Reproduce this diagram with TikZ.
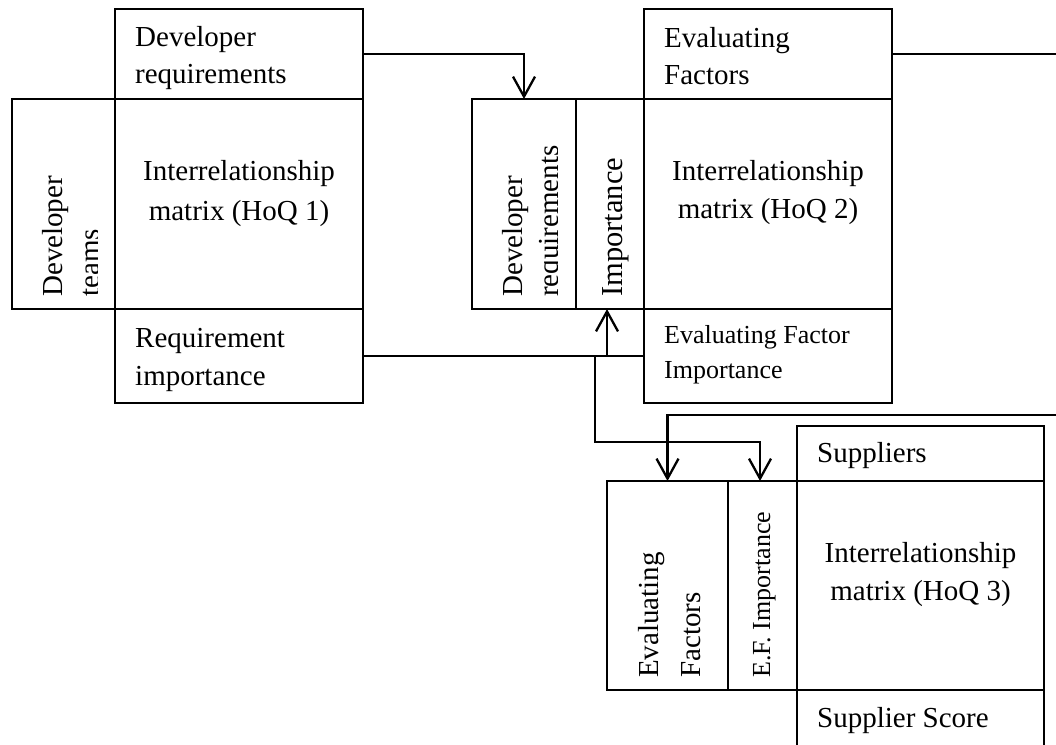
\documentclass[tikz,border=0pt]{standalone}
\usepackage{fontspec}
\setmainfont{Liberation Serif}
\usetikzlibrary{arrows.meta}
\begin{document}
\begin{tikzpicture}[x=1pt,y=-1pt,
  box/.style={draw, line width=1.3pt, inner sep=0pt, outer sep=0pt, minimum width=#1},
  conn/.style={line width=2.3pt},
  conna/.style={line width=2.3pt, -{Straight Barb[length=20pt,width=22pt]}},
  lbl/.style={font=\fontsize{29}{35}\selectfont, inner sep=0pt, anchor=base west},
  lblc/.style={font=\fontsize{29}{35}\selectfont, inner sep=0pt, anchor=base},
  lbls/.style={font=\fontsize{26}{31}\selectfont, inner sep=0pt, anchor=base west},
  vlbl/.style={font=\fontsize{29}{35}\selectfont, inner sep=0pt, anchor=base west, rotate=90},
  vlbls/.style={font=\fontsize{26}{31}\selectfont, inner sep=0pt, anchor=base west, rotate=90},
  vlblb/.style={font=\fontsize{30.5}{36}\selectfont, inner sep=0pt, anchor=base west, rotate=90}]
\useasboundingbox (0,0) rectangle (1056,744);
\clip (0,0) rectangle (1056,744);

% ---------- HoQ 1 ----------
\node[box=248pt, minimum height=90pt]  (h1top)  at (239,54) {};
\node[box=248pt, minimum height=210pt] (h1mat)  at (239,204) {};
\node[box=103pt, minimum height=210pt] (h1left) at (63.5,204) {};
\node[box=248pt, minimum height=94pt]  (h1bot)  at (239,356) {};

\node[lbl] (t1a) at (135,46) {Developer};
\node[lbl] (t1b) at (135,83) {requirements};
\node[lblc] (t1c) at (239,180) {Interrelationship};
\node[lblc] (t1d) at (239,220) {matrix (HoQ 1)};
\node[lbl] (t1e) at (135,347) {Requirement};
\node[lbl] (t1f) at (135,385) {importance};
\node[vlbl] (t1g) at (62,297) {Developer};
\begin{scope}
  \clip (12,99) rectangle (97,309);
  \node[vlbl] (t1h) at (99,297) {teams};
\end{scope}

% ---------- HoQ 2 ----------
\node[box=104pt, minimum height=210pt] (h2dev) at (524,204) {};
\node[box=68pt,  minimum height=210pt] (h2imp) at (610,204) {};
\node[box=248pt, minimum height=90pt]  (h2top) at (768,54) {};
\node[box=248pt, minimum height=210pt] (h2mat) at (768,204) {};
\node[box=248pt, minimum height=94pt]  (h2bot) at (768,356) {};

\node[lbl] (t2a) at (664,47) {Evaluating};
\node[lbl] (t2b) at (664,84) {Factors};
\node[lblc] (t2c) at (768,180) {Interrelationship};
\node[lblc] (t2d) at (768,218) {matrix (HoQ 2)};
\node[lbls] (t2e) at (664,343) {Evaluating Factor};
\node[lbls] (t2f) at (664,378) {Importance};
\node[vlbl] (t2g) at (522,297) {Developer};
\begin{scope}
  \clip (472,99) rectangle (557,309);
  \node[vlbl] (t2h) at (558.5,297) {requirements};
\end{scope}
\node[vlblb] (t2i) at (622,297) {Importance};

% ---------- HoQ 3 ----------
\node[box=121pt, minimum height=209pt] (h3ev)  at (667.5,585.5) {};
\node[box=69pt,  minimum height=209pt] (h3imp) at (762.5,585.5) {};
\node[box=247pt, minimum height=55pt]  (h3top) at (920.5,453.5) {};
\node[box=247pt, minimum height=209pt] (h3mat) at (920.5,585.5) {};
\node[box=247pt, minimum height=110pt] (h3bot) at (920.5,745) {};

\node[lbl] (t3a) at (817,462) {Suppliers};
\node[lblc] (t3b) at (920.5,562) {Interrelationship};
\node[lblc] (t3c) at (920.5,600) {matrix (HoQ 3)};
\node[lbl] (t3d) at (817,727) {Supplier Score};
\node[vlbl] (t3e) at (658,678) {Evaluating};
\node[vlbl] (t3f) at (700,678) {Factors};
\node[vlbls] (t3g) at (770,678) {E.F. Importance};

% ---------- connectors ----------
\coordinate (jA) at (607,356);
\coordinate (jB) at (595,356);
\coordinate (jC) at (595,442);
\coordinate (jR) at (1080,415);

\draw[conna] (h1top.east) -| (h2dev.north);
\draw[conn] (h1bot.east) -- (h2bot.west);
\draw[conna] (jA) -- (jA |- h2imp.south);
\draw[conna] (jB) -- (jC) -| (760,0 |- h3imp.north);
\draw[conna] (h2top.east) -| (jR) -| (h3ev.north);
\end{tikzpicture}
\end{document}
